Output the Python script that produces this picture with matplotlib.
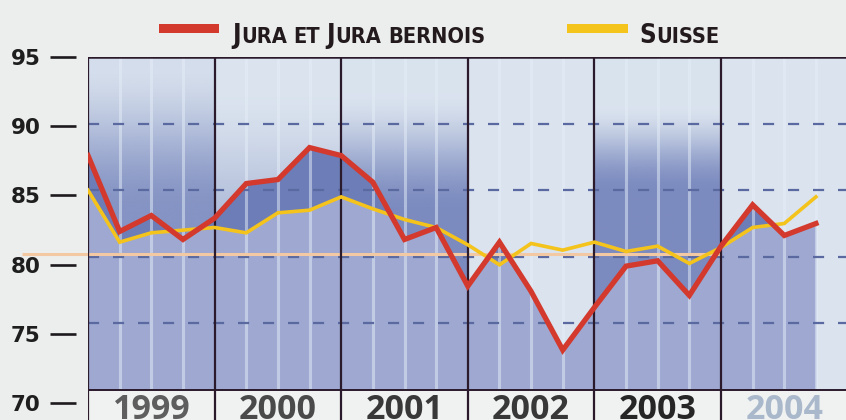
import numpy as np
import matplotlib
matplotlib.use("Agg")
import matplotlib.pyplot as plt
from matplotlib.patches import Rectangle
from matplotlib.colors import to_rgb
from matplotlib import font_manager as fm

plt.rcParams['lines.scale_dashes'] = False

# ---------------- data ----------------
years = ["1999", "2000", "2001", "2002", "2003", "2004"]
jura = [87.6, 81.9, 83.1, 81.3, 82.9, 85.5, 85.8, 88.2,
        87.6, 85.6, 81.3, 82.2, 77.8, 81.1, 77.4, 73.0,
        76.2, 79.3, 79.7, 77.1, 80.8, 83.9, 81.6, 82.5]
suisse = [85.0, 81.1, 81.8, 82.0, 82.2, 81.8, 83.3, 83.5,
          84.5, 83.6, 82.8, 82.2, 80.9, 79.4, 81.0, 80.5,
          81.1, 80.4, 80.8, 79.5, 80.7, 82.2, 82.5, 84.5]
yticks = [70, 75, 80, 85, 90, 95]
grid_levels = [75, 80, 85, 90]
ref_level = 80.2
legend_labels = ["Jura et Jura bernois", "Suisse"]

# ---------------- figure ----------------
W, H = 846, 420
fig = plt.figure(figsize=(W / 100, H / 100), dpi=100, facecolor='#eceeed')

def fx(px):
    return px / W

def fy(py):
    return 1 - py / H

x0_px, top_px = 88, 57
q_px = 126.6 / 4
ax = fig.add_axes([fx(x0_px), 0, fx(W - x0_px), fy(top_px)])
ppu = (390 - 57) / 25.0
ybot = 70 - (420 - 390) / ppu
xmax = (W - x0_px) / q_px
ax.set_facecolor('#dde6f0')
for s in ax.spines.values():
    s.set_visible(False)
ax.set_xticks([])
ax.set_yticks([])

x = np.arange(len(jura))
j = np.array(jura)
s_ = np.array(suisse)

# year background gradients
dark = np.array(to_rgb('#6f7fb9'))
profiles = [
    (94.5, 11.0, 0.72, 0.08),
    (93.0, 13.0, 0.45, 0.02),
    (92.5, 9.0, 0.85, 0.03),
    (95.0, 10.0, 0.00, 0.02),
    (91.5, 6.5, 0.85, 0.03),
    (95.0, 10.0, 0.00, 0.02),
]
vv = np.linspace(70, 95, 1200)
for k, (start, span, amax, base) in enumerate(profiles):
    t = np.clip((start - vv) / span, 0, 1)
    t = t * t * (3 - 2 * t)
    a = np.clip(t * amax + base, 0, 1)
    img = np.zeros((len(vv), 1, 4))
    img[:, 0, :3] = dark
    img[:, 0, 3] = a
    ax.imshow(img, extent=[4 * k, 4 * k + 4, 70, 95], origin='lower',
              aspect='auto', interpolation='bilinear', zorder=0.2)

# label band
ax.add_patch(Rectangle((-1, ybot - 1), xmax + 2, 70 - ybot + 1,
                       facecolor='#f0f2f1', edgecolor='none', zorder=0.5))

# fills
xf = np.linspace(0, len(jura) - 1, 4000)
jf = np.interp(xf, x, j)
sf = np.interp(xf, x, s_)
ax.fill_between(xf, 70, np.minimum(jf, sf), color='#9ea8d1', lw=0, zorder=1)
ax.fill_between(xf, sf, jf, where=jf > sf, color='#6d7db7', lw=0, zorder=1.1)

# quarter strips
for k in range(len(years)):
    for qq in (1, 2, 3):
        ax.plot([4 * k + qq] * 2, [70, 95], color='#e4eef8', lw=2.2,
                alpha=0.5, zorder=1.5, solid_capstyle='butt')

# dashed grid
for g in grid_levels:
    ax.plot([0, xmax], [g, g], color='#5a6aa0', lw=1.6,
            dashes=(8, 10), zorder=2)

# reference line (extends into the left margin)
ax.plot([(22 - x0_px) / q_px, 20], [ref_level, ref_level], color='#f2c9a2',
        lw=2.2, zorder=2.5, clip_on=False, solid_capstyle='butt')

# frame lines
frame_c = '#2a1a2c'
for k in range(len(years)):
    ax.plot([4 * k, 4 * k], [ybot - 1, 95], color=frame_c, lw=1.6, zorder=3)
ax.plot([0, xmax], [95, 95], color=frame_c, lw=1.8, zorder=3)
ax.plot([0, xmax], [70, 70], color=frame_c, lw=1.4, zorder=3)

# series lines
ax.plot(x, s_, color='#f4c31c', lw=2.6, zorder=4, solid_joinstyle='miter')
ax.plot(x, j, color='#d3392d', lw=3.8, zorder=5, solid_joinstyle='miter')

# year labels
ycol = ['#5e5e5e', '#4a4a4a', '#383838', '#383838', '#262626', '#aab8cc']
for k, yr in enumerate(years):
    ax.text(4 * k + 2, 70 - (419 - 390) / ppu, yr, ha='center', va='baseline',
            fontsize=24.5, fontweight='bold', family=['Open Sans', 'DejaVu Sans'],
            color=ycol[k], zorder=6)

ax.set_xlim(0, xmax)
ax.set_ylim(ybot, 95)

# left tick labels on their own scale
ax_l = fig.add_axes([fx(76), 0, fx(1), fy(57)])
ppu_l = (403 - 57) / 25.0
ax_l.set_ylim(70 - (420 - 403) / ppu_l, 95)
ax_l.set_xticks([])
for sp in ax_l.spines.values():
    sp.set_visible(False)
ax_l.patch.set_alpha(0)
ax_l.set_yticks(yticks)
ax_l.set_yticklabels([str(t) for t in yticks])
ax_l.tick_params(axis='y', direction='out', length=18.7, width=1.9,
                 color='#1e1a1e', pad=7, labelsize=15.5, labelcolor='#1e1e1e')
for lab in ax_l.get_yticklabels():
    lab.set_fontweight('bold')
    lab.set_family(['DejaVu Sans'])

# legend swatches
fig.patches.append(Rectangle((fx(159), fy(33)), fx(60), 9 / H,
                             transform=fig.transFigure, facecolor='#d3392d',
                             edgecolor='none'))
fig.patches.append(Rectangle((fx(567), fy(33)), fx(61), 9 / H,
                             transform=fig.transFigure, facecolor='#f4c31c',
                             edgecolor='none'))

# legend font: narrowest available
names = {f.name for f in fm.fontManager.ttflist}
stretch = 'normal'
if 'Liberation Sans Narrow' in names:
    leg_font = ['Liberation Sans Narrow', 'DejaVu Sans']
else:
    leg_font = ['DejaVu Sans']
    if any(f.name == 'DejaVu Sans' and f.stretch == 'condensed'
           for f in fm.fontManager.ttflist):
        stretch = 'condensed'

fig.canvas.draw()
renderer = fig.canvas.get_renderer()


def smallcaps(text, x_px, y_px, big, small, gap_px, draw=True):
    cx = x_px
    made = []
    for wi, word in enumerate(text.split(' ')):
        if wi > 0:
            cx += gap_px
        runs = []
        for ch in word:
            sz = big if ch.isupper() else small
            if runs and runs[-1][1] == sz:
                runs[-1][0] += ch.upper()
            else:
                runs.append([ch.upper(), sz])
        for t, sz in runs:
            tt = fig.text(fx(cx), fy(y_px), t, fontsize=sz, fontweight='bold',
                          family=leg_font, fontstretch=stretch,
                          color='#231a1e', va='baseline', ha='left')
            bb = tt.get_window_extent(renderer)
            cx += bb.width + 0.5
            made.append(tt)
    if not draw:
        for tt in made:
            tt.remove()
    return cx - x_px


# fit sizes to the reference widths
big0, small0 = 22.0, 18.5
w0 = smallcaps(legend_labels[0], 232, 43, big0, small0, 7, draw=False)
scale = min(1.0, 255.0 / w0)
smallcaps(legend_labels[0], 232, 43, big0 * scale, small0 * scale, 7 * scale)
smallcaps(legend_labels[1], 639, 43, big0 * scale, small0 * scale, 7 * scale)

fig.savefig('out.png', dpi=100, facecolor=fig.get_facecolor())
